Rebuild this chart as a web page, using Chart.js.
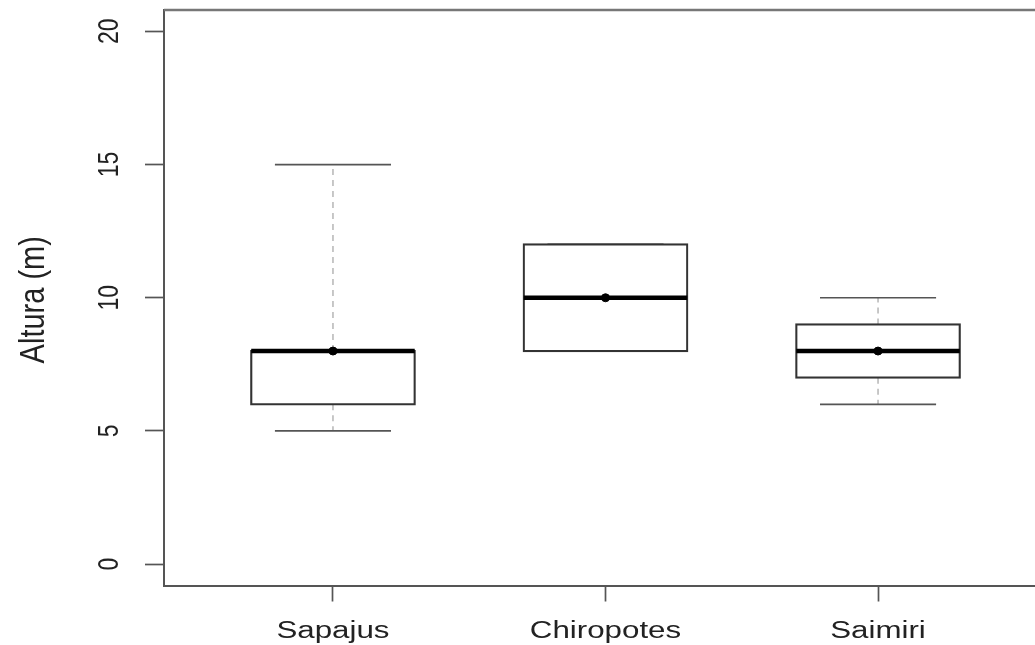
<!DOCTYPE html>
<html>
<head>
<meta charset="utf-8">
<script src="https://cdn.jsdelivr.net/npm/chart.js@4.4.1/dist/chart.umd.min.js"></script>
<style>
  html, body { margin: 0; padding: 0; background: #fff; overflow: hidden; }
  /* the plot frame runs past the right edge of the window */
  #wrap { width: 1052px; height: 645px; }
</style>
</head>
<body>
<div id="wrap"><canvas id="c"></canvas></div>
<script>
// Box-plot statistics per genus (height in metres)
const categories  = ['Sapajus', 'Chiropotes', 'Saimiri'];
const whiskerLow  = [5, 8, 6];
const quartile1   = [6, 8, 7];
const medians     = [8, 10, 8];
const quartile3   = [8, 12, 9];
const whiskerHigh = [15, 12, 10];
const centerDots  = [8, 10, 8];
const yTicks      = [0, 5, 10, 15, 20];
const yTitle      = 'Altura (m)';

// Box half-width and whisker-cap half-width, in category units
const BOX_HALF = 0.3;
const CAP_HALF = 0.213;
const FONT = '"Liberation Sans", Arial, Helvetica, sans-serif';

// Horizontal segments centred on each category, separated by gaps
function hSegments(values, half) {
  const pts = [];
  values.forEach((v, i) => {
    pts.push({ x: i + 1 - half, y: v }, { x: i + 1 + half, y: v }, { x: i + 1 + half, y: null });
  });
  return pts;
}
// Vertical whisker stems: box edge to whisker end, both sides
function stems() {
  const pts = [];
  categories.forEach((_, i) => {
    const x = i + 1;
    pts.push({ x, y: quartile3[i] }, { x, y: whiskerHigh[i] }, { x, y: null });
    pts.push({ x, y: quartile1[i] }, { x, y: whiskerLow[i] }, { x, y: null });
  });
  return pts;
}

// Frame top line and axis labels (drawn with a horizontal stretch)
const stretchedText = {
  id: 'stretchedText',
  afterDraw(chart) {
    const { ctx, chartArea: a, scales: { x, y } } = chart;
    ctx.save();
    ctx.strokeStyle = '#777';
    ctx.lineWidth = 2.5;
    ctx.beginPath();
    ctx.moveTo(a.left, a.top);
    ctx.lineTo(a.right, a.top);
    ctx.stroke();

    ctx.fillStyle = '#222';
    ctx.textAlign = 'center';
    ctx.textBaseline = 'alphabetic';

    ctx.font = '23px ' + FONT;
    categories.forEach((c, i) => {
      ctx.save();
      ctx.translate(x.getPixelForValue(i + 1), a.bottom + 52.5);
      ctx.scale(1.36, 1);
      ctx.fillText(c, 0, 0);
      ctx.restore();
    });

    ctx.font = '23px ' + FONT;
    yTicks.forEach(t => {
      ctx.save();
      ctx.translate(a.left - 46, y.getPixelForValue(t));
      ctx.scale(1.27, 1);
      ctx.rotate(-Math.PI / 2);
      ctx.fillText(String(t), 0, 0);
      ctx.restore();
    });

    ctx.font = '29px ' + FONT;
    ctx.save();
    ctx.translate(a.left - 120, (a.top + a.bottom) / 2 + 2);
    ctx.scale(1.24, 1);
    ctx.rotate(-Math.PI / 2);
    ctx.fillText(yTitle, 0, 0);
    ctx.restore();

    ctx.restore();
  }
};

new Chart(document.getElementById('c'), {
  type: 'bar',
  data: {
    datasets: [
      {
        type: 'line',
        label: 'whiskers',
        data: stems(),
        borderColor: '#aaa',
        borderWidth: 1.3,
        borderDash: [6, 5],
        pointRadius: 0,
        spanGaps: false,
        order: 4
      },
      {
        type: 'line',
        label: 'caps',
        data: hSegments(whiskerHigh, CAP_HALF).concat(hSegments(whiskerLow, CAP_HALF)),
        borderColor: '#555',
        borderWidth: 1.7,
        pointRadius: 0,
        spanGaps: false,
        order: 3
      },
      {
        label: 'box',
        data: categories.map((_, i) => ({ x: i + 1, y: [quartile1[i], quartile3[i]] })),
        backgroundColor: '#fff',
        borderColor: '#333',
        borderWidth: 2.2,
        borderSkipped: false,
        inflateAmount: 1.1,
        categoryPercentage: 1,
        barPercentage: BOX_HALF * 2,
        order: 2
      },
      {
        type: 'line',
        label: 'median',
        data: hSegments(medians, BOX_HALF),
        borderColor: '#000',
        borderWidth: 4.5,
        borderCapStyle: 'butt',
        pointRadius: 0,
        spanGaps: false,
        order: 1
      },
      {
        type: 'scatter',
        label: 'dot',
        data: centerDots.map((v, i) => ({ x: i + 1, y: v })),
        backgroundColor: '#000',
        borderColor: '#000',
        pointRadius: 4,
        showLine: false,
        order: 0
      }
    ]
  },
  options: {
    responsive: true,
    maintainAspectRatio: false,
    animation: false,
    events: [],
    layout: { padding: { top: 10, right: 0, left: 0, bottom: 0 } },
    plugins: { legend: { display: false }, tooltip: { enabled: false } },
    scales: {
      x: {
        type: 'linear',
        min: 0.38,
        max: 3.62,
        offset: false,
        afterBuildTicks: s => { s.ticks = categories.map((_, i) => ({ value: i + 1 })); },
        afterFit: s => { s.height = 59.5; },
        ticks: { display: false },
        grid: { display: true, offset: false, drawOnChartArea: false, drawTicks: true, tickLength: 16, tickColor: '#555', tickWidth: 1.7 },
        border: { display: true, color: '#555', width: 2 }
      },
      y: {
        type: 'linear',
        min: -0.8,
        max: 20.8,
        afterBuildTicks: s => { s.ticks = yTicks.map(v => ({ value: v })); },
        afterFit: s => { s.width = 164; },
        ticks: { display: false },
        grid: { display: true, offset: false, drawOnChartArea: false, drawTicks: true, tickLength: 19, tickColor: '#555', tickWidth: 1.7 },
        border: { display: true, color: '#555', width: 2 }
      }
    }
  },
  plugins: [stretchedText]
});
</script>
</body>
</html>
